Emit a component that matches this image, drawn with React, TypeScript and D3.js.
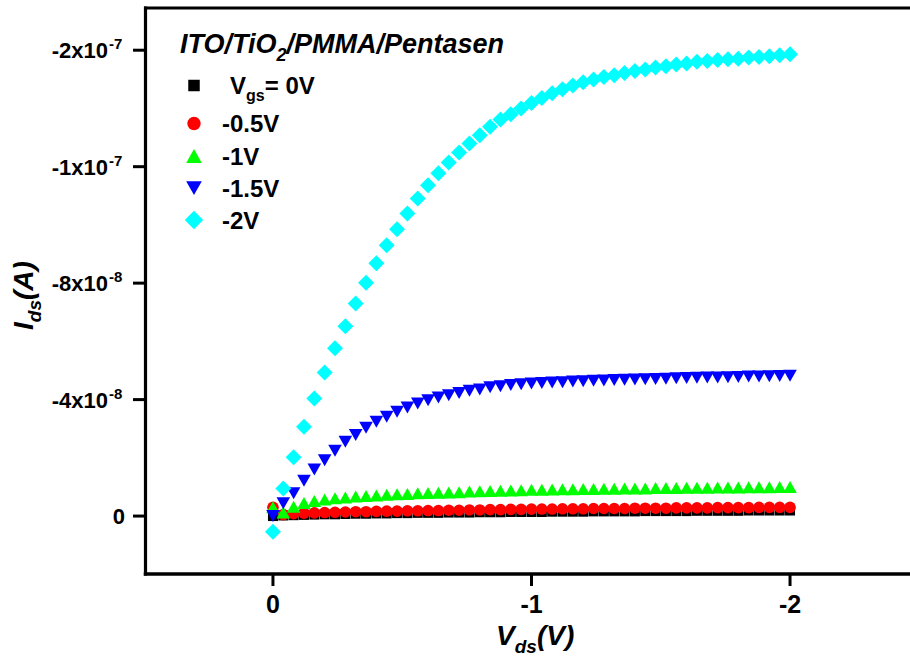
import React from "react";
import * as d3 from "d3";

// Drain–source sweep (V)
const vds = [
  0, -0.04, -0.08, -0.12, -0.16, -0.2, -0.24, -0.28, -0.32, -0.36, -0.4,
  -0.44, -0.48, -0.52, -0.56, -0.6, -0.64, -0.68, -0.72, -0.76, -0.8,
  -0.84, -0.88, -0.92, -0.96, -1.0, -1.04, -1.08, -1.12, -1.16, -1.2,
  -1.24, -1.28, -1.32, -1.36, -1.4, -1.44, -1.48, -1.52, -1.56, -1.6,
  -1.64, -1.68, -1.72, -1.76, -1.8, -1.84, -1.88, -1.92, -1.96, -2.0,
];

// Drain current in units of 1e-8 A, one list per gate voltage
const idsVgs0 = [
  0.0, -0.02, -0.03, -0.04, -0.05, -0.06, -0.06, -0.07, -0.08, -0.08, -0.09,
  -0.09, -0.1, -0.1, -0.11, -0.11, -0.11, -0.12, -0.12, -0.12, -0.13, -0.13, -0.13, -0.14, -0.14, -0.14,
  -0.14, -0.15, -0.15, -0.15, -0.15, -0.16, -0.16, -0.16, -0.16, -0.16, -0.17, -0.17, -0.17, -0.17, -0.17,
  -0.18, -0.18, -0.18, -0.18, -0.18, -0.19, -0.19, -0.19, -0.19, -0.19,
];
const idsVgsM05 = [
  -0.3, -0.05, -0.08, -0.1, -0.11, -0.12, -0.13, -0.14, -0.15, -0.15, -0.16,
  -0.17, -0.17, -0.18, -0.18, -0.19, -0.19, -0.2, -0.2, -0.21, -0.21, -0.22, -0.22, -0.23, -0.23, -0.24,
  -0.24, -0.24, -0.25, -0.25, -0.25, -0.26, -0.26, -0.26, -0.26, -0.27, -0.27, -0.27, -0.27, -0.28, -0.28,
  -0.28, -0.28, -0.29, -0.29, -0.29, -0.29, -0.3, -0.3, -0.3, -0.3,
];
const idsVgsM1 = [
  -0.3, -0.12, -0.32, -0.45, -0.52, -0.57, -0.61, -0.64, -0.67, -0.69,
  -0.71, -0.73, -0.75, -0.76, -0.78, -0.79, -0.8, -0.81, -0.82, -0.84,
  -0.85, -0.86, -0.87, -0.88, -0.89, -0.9, -0.9, -0.91, -0.92, -0.92,
  -0.93, -0.93, -0.94, -0.94, -0.95, -0.95, -0.95, -0.96, -0.96, -0.96,
  -0.97, -0.97, -0.97, -0.98, -0.98, -0.98, -0.99, -0.99, -0.99, -1.0, -1.0,
];
const idsVgsM15 = [
  0.0, -0.44, -0.78, -1.21, -1.6, -1.92, -2.24, -2.55, -2.78, -3.03, -3.24,
  -3.41, -3.58, -3.73, -3.87, -3.98, -4.07, -4.15, -4.23, -4.3, -4.35, -4.42, -4.46, -4.5, -4.53, -4.55,
  -4.57, -4.59, -4.6, -4.62, -4.63, -4.65, -4.66, -4.67, -4.68, -4.69, -4.7, -4.71, -4.72, -4.73, -4.74,
  -4.75, -4.76, -4.76, -4.77, -4.78, -4.79, -4.79, -4.8, -4.81, -4.82,
];
const idsVgsM2 = [
  0.54, -0.95, -2.02, -3.07, -4.04, -4.93, -5.76, -6.52, -7.3, -8.01, -8.68,
  -9.3, -9.85, -10.39, -10.91, -11.36, -11.77, -12.14, -12.49, -12.8, -13.08, -13.37, -13.62, -13.8, -14.0, -14.19,
  -14.36, -14.52, -14.66, -14.79, -14.9,
  -14.99, -15.08, -15.14, -15.22, -15.29, -15.34, -15.41, -15.45, -15.51, -15.54,
  -15.6, -15.63, -15.66, -15.69, -15.71, -15.75, -15.77, -15.79, -15.83, -15.86,
];

const seriesLabels = ["0V", "-0.5V", "-1V", "-1.5V", "-2V"];
const seriesColors = ["#000000", "#ff0000", "#00ff00", "#0000ff", "#00ffff"];
const seriesShapes = ["square", "circle", "triangleUp", "triangleDown", "diamond"];
const seriesValues = [idsVgs0, idsVgsM05, idsVgsM1, idsVgsM15, idsVgsM2];

const xTickValues = [0, -1, -2];
const xTickLabels = ["0", "-1", "-2"];
const yTickValues = [0, -4e-8, -8e-8, -1.2e-7, -1.6e-7];
const yTickMantissas = ["0", "-4x10", "-8x10", "-1x10", "-2x10"];
const yTickExponents = ["", "-8", "-8", "-7", "-7"];

const FONT = "'Liberation Sans', Arial, Helvetica, sans-serif";

function markerPath(shape: string, cx: number, cy: number, k = 1): string {
  switch (shape) {
    case "square": {
      const h = 5 * k;
      return `M${cx - h},${cy - h}H${cx + h}V${cy + h}H${cx - h}Z`;
    }
    case "circle": {
      const r = 5.8 * k;
      return `M${cx - r},${cy}A${r},${r} 0 1,0 ${cx + r},${cy}A${r},${r} 0 1,0 ${cx - r},${cy}Z`;
    }
    case "triangleUp": {
      const w = 6.8 * k, h = 6 * k;
      return `M${cx},${cy - h}L${cx + w},${cy + h}L${cx - w},${cy + h}Z`;
    }
    case "triangleDown": {
      const w = 6.8 * k, h = 6 * k;
      return `M${cx - w},${cy - h}L${cx + w},${cy - h}L${cx},${cy + h}Z`;
    }
    default: {
      const h = 8 * k;
      return `M${cx},${cy - h}L${cx + h},${cy}L${cx},${cy + h}L${cx - h},${cy}Z`;
    }
  }
}

export default function App() {
  const W = 910;
  const H = 660;
  const left = 145.5;
  const right = 919.3;
  const top = 8;
  const bottom = 574;

  const x = d3.scaleLinear().domain([0.493, -2.5]).range([left, right]);
  const y = d3.scaleLinear().domain([1.99e-8, -1.745e-7]).range([bottom, top]);

  const legendBaselines = [94, 132, 164.5, 196.7, 228.5];

  return (
    <svg
      width={W}
      height={H}
      viewBox={`0 0 ${W} ${H}`}
      style={{ position: "absolute", left: 0, top: 0, background: "#fff" }}
      fontFamily={FONT}
    >
      <rect x={0} y={0} width={W} height={H} fill="#fff" />

      {/* data markers */}
      {seriesValues.map((vals, si) => (
        <g key={si} fill={seriesColors[si]}>
          {vals.map((v, i) => (
            <path key={i} d={markerPath(seriesShapes[si], x(vds[i]), y(v * 1e-8))} />
          ))}
        </g>
      ))}

      {/* frame */}
      <g stroke="#000" fill="none" strokeLinecap="square">
        <line x1={left} x2={left} y1={top} y2={bottom} strokeWidth={3.2} />
        <line x1={left} x2={right} y1={bottom} y2={bottom} strokeWidth={3.5} />
        <line x1={left} x2={right} y1={top} y2={top} strokeWidth={3} />
        <line x1={right} x2={right} y1={top} y2={bottom} strokeWidth={3} />
      </g>

      {/* y axis */}
      {yTickValues.map((v, i) => {
        const ty = y(v);
        return (
          <g key={i}>
            <line x1={133} x2={left} y1={ty} y2={ty} stroke="#000" strokeWidth={3} />
            <text
              x={yTickExponents[i] ? 108 : 125}
              y={ty + 8}
              textAnchor="end"
              fontSize={22}
              fontWeight="bold"
            >
              {yTickMantissas[i]}
            </text>
            {yTickExponents[i] && (
              <text x={109} y={ty - 1} fontSize={15} fontWeight="bold">
                {yTickExponents[i]}
              </text>
            )}
          </g>
        );
      })}

      {/* x axis */}
      {xTickValues.map((v, i) => {
        const tx = x(v);
        return (
          <g key={i}>
            <line x1={tx} x2={tx} y1={bottom} y2={586} stroke="#000" strokeWidth={3} />
            <text x={tx} y={613} textAnchor="middle" fontSize={25} fontWeight="bold">
              {xTickLabels[i]}
            </text>
          </g>
        );
      })}

      {/* axis titles */}
      <text x={496} y={645} fontSize={28} fontWeight="bold" fontStyle="italic">
        V<tspan fontSize={19} dy={8}>ds</tspan>
        <tspan dy={-8}>(V)</tspan>
      </text>
      <text
        transform="translate(33,330) rotate(-90)"
        fontSize={28}
        fontWeight="bold"
        fontStyle="italic"
      >
        I<tspan fontSize={19} dy={8}>ds</tspan>
        <tspan dy={-8}>(A)</tspan>
      </text>

      {/* legend */}
      <text x={180} y={52.5} fontSize={27} fontWeight="bold" fontStyle="italic">
        ITO/TiO<tspan fontSize={18} dy={8}>2</tspan>
        <tspan dy={-8}>/PMMA/Pentasen</tspan>
      </text>
      {seriesLabels.map((lab, i) => {
        const by = legendBaselines[i];
        return (
          <g key={i}>
            <path d={markerPath(seriesShapes[i], 194, by - 8.5, 1.15)} fill={seriesColors[i]} />
            {i === 0 ? (
              <text x={230} y={by} fontSize={24} fontWeight="bold">
                V<tspan fontSize={16} dy={7}>gs</tspan>
                <tspan dy={-7}>= {lab}</tspan>
              </text>
            ) : (
              <text x={222} y={by} fontSize={24} fontWeight="bold">
                {lab}
              </text>
            )}
          </g>
        );
      })}
    </svg>
  );
}
